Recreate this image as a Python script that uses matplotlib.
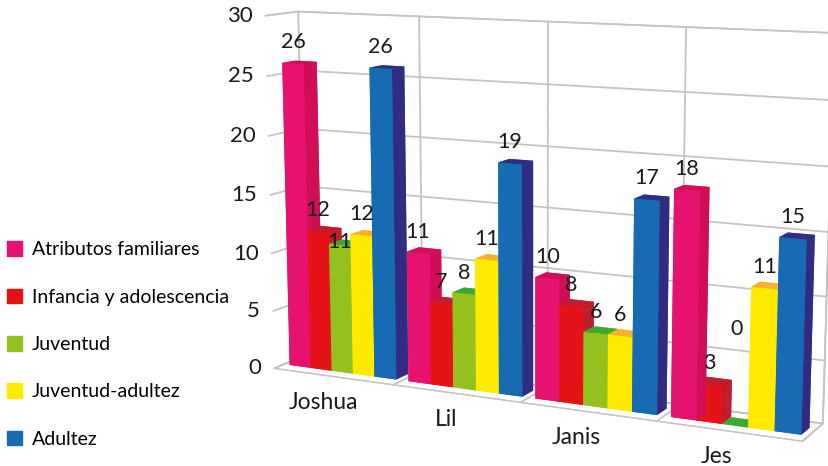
import numpy as np
import matplotlib.pyplot as plt
import matplotlib.transforms as mtransforms
from matplotlib.patches import Patch

# columnas por persona
personas = ["Joshua", "Lil", "Janis", "Jes"]
series = ["Atributos familiares", "Infancia y adolescencia", "Juventud",
          "Juventud-adultez", "Adultez"]
atributos = [26, 11, 10, 18]
infancia = [12, 7, 8, 3]
juventud = [11, 8, 6, 0]
juv_adultez = [12, 11, 6, 11]
adultez = [26, 19, 17, 15]
valores = [atributos, infancia, juventud, juv_adultez, adultez]
escala = [0, 5, 10, 15, 20, 25, 30]

frente = ["#E5126F", "#E31318", "#95C11F", "#FFEA00", "#176BB3"]
lado = ["#D00E58", "#BE1E2D", "#3AAA35", "#F7B02E", "#312C81"]

plt.rcParams["font.family"] = ["Lato", "DejaVu Sans"]
plt.rcParams["grid.color"] = "#c4c4c4"
plt.rcParams["grid.linewidth"] = 1.3

fig = plt.figure(figsize=(8.29, 4.66), dpi=100)
ax = fig.add_axes([0.215, -0.093, 0.84, 1.24], projection="3d")


def desplazado(dx, dy):
    return ax.transData + mtransforms.ScaledTranslation(dx / 72, dy / 72, fig.dpi_scale_trans)


ancho = 0.18
fondo_y, prof = 0.3, 0.4
xs, ys, dzs, colores = [], [], [], []
for s, vals in enumerate(valores):
    for g, v in enumerate(vals):
        xs.append(g + 0.05 + s * ancho)
        ys.append(fondo_y)
        dzs.append(v)
        # caras: abajo, arriba, frente, atras, izquierda, derecha
        colores += [frente[s], lado[s], frente[s], frente[s], frente[s], lado[s]]
ax.bar3d(xs, ys, np.zeros(len(xs)), ancho, prof, dzs, color=colores,
         shade=False, edgecolor="none", linewidth=0)

# etiquetas de valor
ajuste = {(0, 2): -1.6, (3, 2): 6.0}
for s, vals in enumerate(valores):
    for g, v in enumerate(vals):
        z = v + ajuste.get((g, s), 0)
        ax.text(g + 0.05 + (s + 0.5) * ancho, fondo_y, z, str(v),
                ha="center", va="bottom", fontsize=15.5, color="#1a1a1a",
                transform=desplazado(0, 8))

# nombres bajo el borde del piso
for g, nombre in enumerate(personas):
    ax.text(g + 0.42, 0, 0, nombre, ha="center", va="center",
            fontsize=16.5, color="#1a1a1a", transform=desplazado(0, -19.5))

# escala del eje vertical a la izquierda
for z in escala:
    ax.text(0, 0, z, str(z), ha="right", va="center", fontsize=16,
            color="#1a1a1a", transform=desplazado(-9, 0))

ax.set_xlim(0, 4)
ax.set_ylim(0, 1)
ax.set_zlim(0, 30)
ax.set_xticks(range(5))
ax.set_yticks([])
ax.set_zticks(escala)
for axis in (ax.xaxis, ax.yaxis, ax.zaxis):
    axis.set_tick_params(labelbottom=False, labeltop=False)
    axis.set_pane_color((1, 1, 1, 1))
    axis.pane.set_edgecolor("#c4c4c4")
    axis.line.set_color("#c4c4c4")
    axis._axinfo["tick"]["inward_factor"] = 0
    axis._axinfo["tick"]["outward_factor"] = 0

ax.set_proj_type("persp", focal_length=0.6)
ax.view_init(elev=10.5, azim=-64)
ax.set_box_aspect((6.1, 0.65, 3.9), zoom=1.18)

fig.legend(handles=[Patch(color=c) for c in frente], labels=series,
           loc="upper left", bbox_to_anchor=(-0.013, 0.52), frameon=False,
           fontsize=14, handlelength=0.8, handleheight=0.8,
           handletextpad=0.5, labelspacing=1.55)

fig.savefig("out.png", dpi=100)
